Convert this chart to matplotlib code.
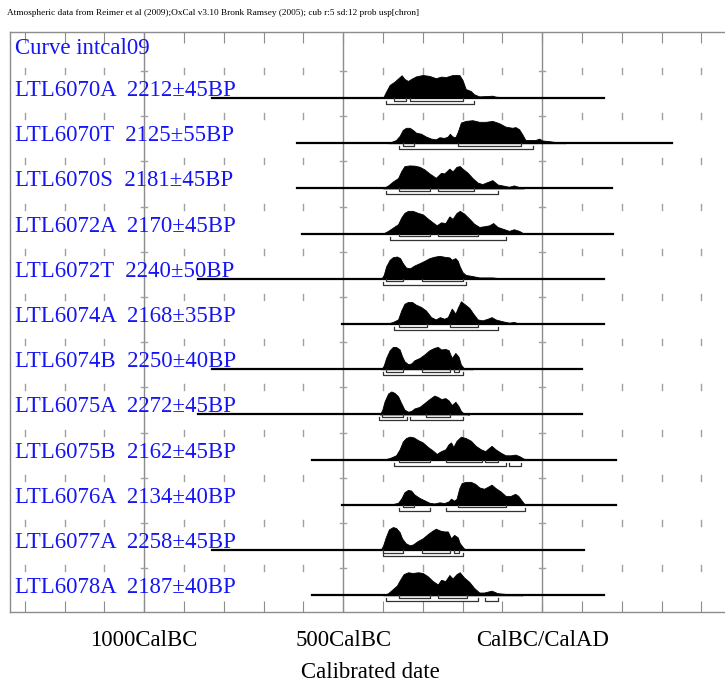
import matplotlib
matplotlib.use("Agg")
import matplotlib.pyplot as plt
import numpy as np

plt.rcParams['font.family'] = ['Liberation Serif', 'DejaVu Serif']

# sample labels
names = ["LTL6070A", "LTL6070T", "LTL6070S", "LTL6072A", "LTL6072T", "LTL6074A",
         "LTL6074B", "LTL6075A", "LTL6075B", "LTL6076A", "LTL6077A", "LTL6078A"]
bp_ages = [2212, 2125, 2181, 2170, 2240, 2168, 2250, 2272, 2162, 2134, 2258, 2187]
bp_errors = [45, 55, 45, 45, 50, 35, 40, 45, 45, 40, 45, 40]

# extent of the baseline drawn for each sample (calendar years, BC negative)
line_start = [-829, -616, -616, -603, -864, -503, -829, -864, -578, -503, -829, -578]
line_end = [156, 327, 176, 178, 156, 156, 100, 100, 186, 186, 105, 156]

# calibrated probability distributions (relative, % of max)
ltl6070a_years = [-400, -392, -383, -371, -358, -353, -346, -337, -329, -317, -300, -283, -267,
                  -254, -242, -225, -208, -200, -192, -179, -171, -158, -125, -117, -83, -58]
ltl6070a_prob = [0, 28, 57, 71, 91, 99, 83, 74, 83, 94, 100, 96, 86,
                 93, 91, 100, 100, 78, 39, 30, 16, 7, 10, 6, 1, 0]

ltl6070t_years = [-387, -367, -358, -350, -342, -333, -325, -317, -304, -292, -279, -267, -258,
                  -246, -237, -232, -225, -218, -212, -204, -192, -175, -158, -142, -125, -108,
                  -92, -75, -67, -58, -50, -42, -29, -17, -7, 0, 17, 42, 58]
ltl6070t_prob = [0, 14, 32, 58, 67, 67, 58, 46, 41, 29, 20, 17, 26,
                 23, 29, 41, 29, 26, 49, 90, 97, 100, 93, 93, 97, 87,
                 72, 67, 70, 61, 39, 14, 14, 14, 20, 12, 9, 3, 0]

ltl6070s_years = [-400, -387, -375, -362, -354, -346, -333, -321, -308, -296, -283, -267, -254,
                  -246, -233, -225, -215, -207, -200, -187, -175, -162, -150, -137, -125, -112,
                  -100, -83, -71, -58, -46]
ltl6070s_prob = [0, 13, 30, 45, 75, 97, 100, 99, 94, 83, 65, 46, 68,
                 65, 86, 74, 94, 97, 86, 68, 45, 25, 19, 28, 36, 17,
                 13, 7, 13, 6, 0]

ltl6072a_years = [-400, -387, -375, -362, -354, -346, -337, -325, -312, -300, -287, -275, -265,
                  -254, -243, -233, -225, -215, -207, -196, -183, -171, -158, -146, -133, -123,
                  -112, -100, -83, -71, -58, -46]
ltl6072a_prob = [0, 12, 26, 41, 70, 90, 99, 99, 90, 84, 65, 49, 36,
                 49, 46, 75, 64, 90, 99, 87, 65, 43, 29, 32, 36, 46,
                 29, 22, 12, 19, 12, 0]

ltl6072t_years = [-404, -398, -392, -383, -375, -365, -357, -350, -342, -332, -321, -308, -296,
                  -283, -271, -258, -246, -233, -227, -218, -212, -207, -200, -192, -175, -158,
                  -125, -108, -92]
ltl6072t_prob = [0, 17, 54, 83, 94, 97, 90, 68, 49, 46, 58, 68, 78,
                 90, 96, 100, 96, 93, 83, 90, 78, 54, 29, 17, 12, 6,
                 6, 3, 0]

ltl6074a_years = [-392, -375, -362, -354, -346, -337, -327, -317, -304, -292, -279, -267, -257,
                  -246, -237, -233, -227, -218, -212, -204, -196, -183, -173, -162, -150, -137,
                  -127, -117, -100, -83, -71, -54]
ltl6074a_prob = [0, 9, 20, 59, 88, 96, 96, 84, 74, 59, 30, 20, 30,
                 23, 30, 45, 67, 45, 70, 99, 88, 70, 45, 20, 16, 23,
                 30, 20, 12, 6, 9, 0]

ltl6074b_years = [-404, -398, -392, -383, -375, -367, -358, -352, -346, -337, -329, -321, -308,
                  -296, -283, -271, -262, -254, -243, -235, -227, -218, -210, -204, -196, -175]
ltl6074b_prob = [0, 16, 49, 83, 97, 97, 86, 57, 35, 22, 25, 39, 49,
                 64, 83, 93, 97, 86, 88, 83, 49, 71, 54, 20, 3, 0]

ltl6075a_years = [-408, -402, -396, -387, -379, -371, -362, -354, -346, -337, -329, -321, -308,
                  -296, -283, -271, -262, -254, -243, -235, -227, -218, -210, -204, -196, -183]
ltl6075a_prob = [0, 18, 56, 91, 100, 94, 79, 49, 21, 12, 15, 26, 33,
                 49, 67, 82, 76, 67, 71, 61, 41, 55, 36, 15, 3, 0]

ltl6075b_years = [-400, -383, -367, -358, -350, -342, -333, -323, -312, -300, -287, -275, -265,
                  -254, -243, -235, -229, -223, -215, -204, -192, -179, -167, -154, -143, -135,
                  -127, -117, -104, -92, -79, -67, -57, -46, -25, -8]
ltl6075b_prob = [0, 7, 19, 45, 79, 94, 100, 97, 85, 75, 55, 40, 25,
                 37, 45, 67, 75, 55, 82, 100, 94, 82, 60, 45, 37, 49,
                 60, 45, 30, 19, 19, 22, 15, 4, 1, 0]

ltl6076a_years = [-383, -362, -354, -346, -337, -329, -321, -308, -296, -283, -271, -258, -246,
                  -235, -229, -221, -215, -208, -202, -192, -179, -168, -158, -146, -135, -127,
                  -117, -104, -92, -79, -68, -60, -52, -43]
ltl6076a_prob = [0, 9, 27, 55, 65, 62, 45, 30, 20, 9, 6, 11, 8,
                 15, 27, 18, 27, 73, 95, 100, 100, 91, 76, 70, 80, 88,
                 73, 58, 39, 39, 48, 39, 20, 0]

ltl6077a_years = [-406, -400, -393, -385, -375, -367, -358, -352, -343, -333, -325, -312, -300,
                  -287, -275, -267, -257, -246, -237, -229, -221, -212, -207, -196, -175]
ltl6077a_prob = [0, 18, 55, 90, 100, 96, 78, 51, 30, 21, 24, 40, 51,
                 70, 85, 93, 85, 81, 81, 51, 66, 55, 30, 6, 0]

ltl6078a_years = [-400, -387, -375, -365, -357, -348, -337, -325, -312, -300, -287, -275, -262,
                  -254, -243, -233, -225, -215, -207, -196, -183, -171, -158, -146, -127, -112,
                  -92, -67, -50]
ltl6078a_prob = [0, 9, 27, 42, 67, 92, 100, 97, 100, 97, 82, 62, 47,
                 67, 62, 88, 73, 92, 100, 77, 58, 32, 12, 12, 20, 9,
                 6, 3, 0]

# 68.2% and 95.4% ranges
range68 = [
    [(-371, -342), (-332, -200)],
    [(-350, -321), (-212, -52)],
    [(-360, -281), (-262, -171)],
    [(-360, -281), (-262, -162)],
    [(-392, -350), (-302, -200)],
    [(-360, -290), (-232, -162)],
    [(-392, -350), (-302, -232), (-221, -210)],
    [(-402, -350), (-292, -232)],
    [(-360, -281), (-242, -152), (-143, -112)],
    [(-350, -321), (-212, -92)],
    [(-400, -350), (-302, -232), (-221, -210)],
    [(-360, -281), (-262, -190)],
]
range95 = [
    [(-392, -171)],
    [(-360, -23)],
    [(-392, -112)],
    [(-381, -92)],
    [(-400, -192)],
    [(-371, -112)],
    [(-400, -200)],
    [(-410, -340), (-332, -200)],
    [(-371, -92), (-83, -52)],
    [(-360, -281), (-242, -42)],
    [(-400, -200)],
    [(-392, -162), (-143, -112)],
]

dists = [
    (ltl6070a_years, ltl6070a_prob), (ltl6070t_years, ltl6070t_prob),
    (ltl6070s_years, ltl6070s_prob), (ltl6072a_years, ltl6072a_prob),
    (ltl6072t_years, ltl6072t_prob), (ltl6074a_years, ltl6074a_prob),
    (ltl6074b_years, ltl6074b_prob), (ltl6075a_years, ltl6075a_prob),
    (ltl6075b_years, ltl6075b_prob), (ltl6076a_years, ltl6076a_prob),
    (ltl6077a_years, ltl6077a_prob), (ltl6078a_years, ltl6078a_prob),
]

major_years = [-1000, -500, 0]
major_labels = ["1000CalBC", "500CalBC", "CalBC/CalAD"]
minor_years = list(range(-1300, 500, 100))

row_px = 45.2
peak = 23 / row_px
blue = "#1414f5"
grey = "#8c8c8c"

fig = plt.figure(figsize=(7.25, 6.84), dpi=100)
ax = fig.add_axes([10 / 725, 72 / 684, 720 / 725, 580 / 684])
ax.set_xlim(-1337, 472)
ax.set_ylim(11.37, -1.46)

for yr in major_years:
    ax.axvline(yr, color=grey, lw=1, zorder=1)

# small tick marks between rows
for i in range(12):
    yt = i - 27 / row_px
    for yr in minor_years:
        if yr in major_years:
            ax.plot([yr - 8, yr + 8], [yt, yt], color="#a0a0a0", lw=1, zorder=1)
        else:
            ax.plot([yr, yr], [yt - 0.066, yt + 0.066], color="#a0a0a0", lw=1, zorder=1)

ax.text(-1324, -0.97, "Curve intcal09", color=blue, fontsize=16.4, va="baseline")

for i, (yrs, prob) in enumerate(dists):
    yrs = np.array(yrs)
    prob = np.array(prob) / 100.0
    ax.text(-1324, i - 2 / row_px, f"{names[i]}  {bp_ages[i]}\u00b1{bp_errors[i]}BP",
            color=blue, fontsize=16.4, va="baseline", zorder=2)
    ax.fill_between(yrs, i, i - prob * peak, color="black", lw=0.6, edgecolor="black", zorder=3)
    ax.plot([line_start[i], line_end[i]], [i, i], color="black", lw=1.6, zorder=4)
    # 68.2% brackets
    y1 = i + 2.5 / row_px
    for a, b in range68[i]:
        ax.plot([a, a, b, b], [i, y1, y1, i], color="#333333", lw=0.9, zorder=4)
    # 95.4% brackets
    y2 = i + 6 / row_px
    for a, b in range95[i]:
        ax.plot([a, a, b, b], [y2 - 3 / row_px, y2, y2, y2 - 3 / row_px],
                color="#333333", lw=0.9, zorder=4)

ax.set_xticks(minor_years)
ax.set_xticklabels([major_labels[major_years.index(y)] if y in major_years else ""
                    for y in minor_years], fontsize=16.4)
ax.tick_params(axis="x", direction="in", length=8, color=grey, top=True, pad=13)
ax.set_yticks([])
ax.set_xlabel("Calibrated date", fontsize=16.4, labelpad=8)

for side in ["left", "top", "bottom"]:
    ax.spines[side].set_color(grey)
    ax.spines[side].set_linewidth(1)
ax.spines["right"].set_visible(False)

fig.text(7 / 725, 1 - 13 / 684,
         "Atmospheric data from Reimer et al (2009);OxCal v3.10 Bronk Ramsey (2005); cub r:5 sd:12 prob usp[chron]",
         fontsize=6.7, va="center", ha="left")

fig.savefig("out.png", dpi=100)
